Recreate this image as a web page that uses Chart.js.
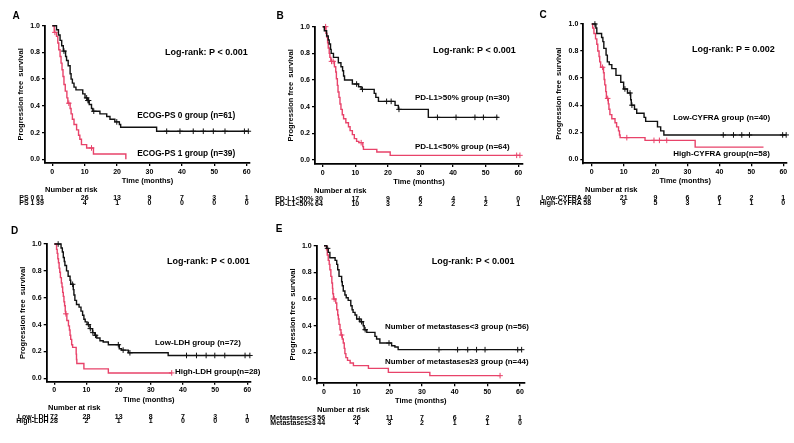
<!DOCTYPE html>
<html>
<head>
<meta charset="utf-8">
<script src="https://cdn.jsdelivr.net/npm/chart.js@4.4.1/dist/chart.umd.min.js"></script>
<style>
  body { margin: 0; background: #fff; }
  #wrap { position: relative; width: 794px; height: 443px; overflow: hidden; background: #fff; }
  #wrap canvas { position: absolute; }
</style>
</head>
<body>
<div id="wrap"></div>
<script>
// --- DATA ---
const xTicks = [0, 10, 20, 30, 40, 50, 60];
const yTicks = [0, 0.2, 0.4, 0.6, 0.8, 1.0];

// A: ECOG-PS
const aT0 = [0, 1.3, 1.9, 2.4, 2.9, 3.4, 4.1, 4.4, 4.9, 5.5, 5.8, 6.2, 6.7, 7.3, 9.4, 10.1, 10.8, 11.4, 12.1, 12.5, 14.7, 16.8, 17.8, 19.3, 20.7, 21.1, 32.2];
const aS0 = [1.0, 0.97, 0.93, 0.89, 0.85, 0.81, 0.77, 0.74, 0.70, 0.64, 0.60, 0.57, 0.54, 0.52, 0.49, 0.46, 0.44, 0.41, 0.38, 0.36, 0.34, 0.32, 0.30, 0.28, 0.26, 0.24, 0.21];
const aC0 = [3.6, 10.6, 11.0, 11.2, 12.8, 19.9, 35.3, 39.4, 43.5, 46.6, 49.7, 53.3, 59.3, 60.5];
const aEnd0 = 60.5;
const aT1 = [0, 0.6, 1.3, 1.7, 2.0, 2.4, 2.7, 3.0, 3.3, 3.6, 4.0, 4.5, 4.8, 5.5, 5.8, 6.2, 6.7, 7.5, 8.1, 8.5, 9.0, 10.6, 12.7, 22.7];
const aS1 = [1.0, 0.95, 0.92, 0.87, 0.82, 0.77, 0.72, 0.67, 0.62, 0.56, 0.51, 0.46, 0.42, 0.38, 0.34, 0.30, 0.26, 0.22, 0.18, 0.15, 0.11, 0.085, 0.04, 0.0];
const aC1 = [0.8, 5.1, 12.1];
const aEnd1 = 22.7;
const aRisk0 = [61, 26, 13, 9, 7, 3, 1];
const aRisk1 = [39, 4, 1, 0, 0, 0, 0];

// B: PD-L1
const bT0 = [0, 0.5, 1.2, 1.7, 2.0, 2.4, 2.6, 3.3, 4.8, 5.6, 6.1, 6.4, 6.7, 9.1, 11.0, 11.8, 15.8, 16.3, 17.1, 22.2, 23.2, 32.4];
const bS0 = [1.0, 0.97, 0.93, 0.90, 0.87, 0.83, 0.80, 0.77, 0.73, 0.70, 0.67, 0.63, 0.60, 0.57, 0.55, 0.53, 0.50, 0.47, 0.44, 0.41, 0.38, 0.32];
const bC0 = [10.4, 12.2, 19.6, 21.0, 23.4, 35.2, 40.9, 46.7, 49.3, 53.4];
const bEnd0 = 53.9;
const bT1 = [0, 1.0, 1.3, 1.5, 1.7, 2.0, 2.2, 2.5, 3.6, 4.0, 4.2, 4.5, 4.7, 5.0, 5.3, 5.6, 6.0, 6.4, 7.1, 7.9, 8.4, 9.1, 9.7, 10.4, 11.1, 12.3, 12.5, 16.6, 20.7];
const bS1 = [1.0, 0.95, 0.92, 0.88, 0.84, 0.80, 0.77, 0.74, 0.70, 0.66, 0.61, 0.56, 0.51, 0.47, 0.42, 0.38, 0.34, 0.31, 0.28, 0.25, 0.22, 0.19, 0.16, 0.14, 0.13, 0.10, 0.08, 0.06, 0.035];
const bC1 = [0.9, 2.7, 3.2, 11.8, 59.5, 60.5];
const bEnd1 = 60.5;
const bRisk0 = [30, 17, 9, 6, 4, 1, 0];
const bRisk1 = [64, 10, 3, 2, 2, 2, 1];

// C: CYFRA
const cT0 = [0, 1.3, 1.6, 3.1, 3.5, 3.8, 4.5, 4.9, 5.5, 6.3, 7.6, 9.1, 10.0, 11.2, 12.2, 12.4, 13.4, 14.1, 16.4, 16.9, 20.6, 21.6, 22.6];
const cS0 = [1.0, 0.97, 0.93, 0.90, 0.87, 0.82, 0.77, 0.72, 0.70, 0.67, 0.62, 0.57, 0.52, 0.49, 0.44, 0.40, 0.37, 0.34, 0.31, 0.28, 0.24, 0.21, 0.18];
const cC0 = [1.0, 10.4, 12.0, 12.6, 41.2, 44.4, 47.0, 49.4, 59.8, 60.9];
const cEnd0 = 60.9;
const cT1 = [0, 0.3, 0.7, 1.2, 1.6, 1.9, 2.3, 2.5, 2.8, 3.7, 3.9, 4.1, 4.4, 4.6, 5.2, 5.4, 5.7, 6.3, 7.3, 7.8, 8.4, 8.7, 8.9, 16.7, 32.4];
const cS1 = [1.0, 0.97, 0.93, 0.89, 0.85, 0.80, 0.76, 0.72, 0.68, 0.64, 0.59, 0.55, 0.50, 0.45, 0.41, 0.37, 0.33, 0.30, 0.27, 0.24, 0.21, 0.18, 0.16, 0.14, 0.09];
const cC1 = [3.4, 5.0, 11.0, 19.5, 21.2, 23.5];
const cEnd1 = 53.8;
const cRisk0 = [40, 21, 9, 6, 6, 2, 1];
const cRisk1 = [58, 9, 5, 3, 1, 1, 0];

// D: LDH
const dT0 = [0, 2.1, 2.5, 2.8, 3.1, 3.3, 3.8, 4.3, 4.9, 5.1, 5.9, 6.1, 6.4, 6.9, 7.7, 8.3, 8.8, 9.2, 9.6, 10.2, 11.1, 11.9, 12.6, 13.2, 14.2, 15.2, 16.8, 20.2, 20.9, 23.0, 35.4];
const dS0 = [1.0, 0.97, 0.94, 0.90, 0.87, 0.84, 0.80, 0.76, 0.73, 0.70, 0.66, 0.62, 0.58, 0.55, 0.53, 0.50, 0.47, 0.44, 0.42, 0.40, 0.37, 0.34, 0.32, 0.30, 0.28, 0.27, 0.25, 0.22, 0.21, 0.19, 0.17];
const dC0 = [1.2, 5.7, 10.6, 11.2, 12.0, 12.8, 19.9, 21.4, 23.5, 41.1, 44.2, 47.2, 49.9, 53.0, 59.3, 60.8];
const dEnd0 = 60.8;
const dT1 = [0, 0.7, 0.9, 1.1, 1.3, 1.5, 1.7, 1.9, 2.2, 2.4, 2.6, 2.8, 3.0, 3.2, 3.4, 3.5, 3.9, 4.4, 4.7, 4.9, 5.1, 5.4, 5.7, 6.8, 6.9, 7.0, 9.2, 16.8];
const dS1 = [1.0, 0.96, 0.93, 0.89, 0.86, 0.82, 0.79, 0.75, 0.71, 0.68, 0.64, 0.61, 0.57, 0.54, 0.50, 0.48, 0.43, 0.39, 0.36, 0.32, 0.29, 0.25, 0.23, 0.18, 0.14, 0.11, 0.07, 0.04];
const dC1 = [3.6, 36.5];
const dEnd1 = 36.5;
const dRisk0 = [72, 28, 13, 8, 7, 3, 1];
const dRisk1 = [28, 2, 1, 1, 0, 0, 0];

// E: number of metastases
const eT0 = [0, 0.8, 1.3, 1.8, 3.4, 3.9, 4.2, 4.6, 5.4, 5.6, 5.9, 6.4, 6.8, 7.4, 8.2, 8.6, 8.9, 9.5, 10.0, 11.0, 12.0, 12.3, 13.1, 15.6, 16.1, 17.1, 20.7, 21.7, 22.7];
const eS0 = [1.0, 0.98, 0.95, 0.91, 0.89, 0.86, 0.82, 0.77, 0.73, 0.70, 0.66, 0.63, 0.61, 0.59, 0.55, 0.52, 0.50, 0.48, 0.45, 0.43, 0.40, 0.37, 0.35, 0.32, 0.30, 0.27, 0.25, 0.24, 0.22];
const eC0 = [1.1, 10.8, 11.5, 12.6, 19.9, 35.2, 40.9, 44.0, 46.7, 49.3, 59.3, 60.5];
const eEnd0 = 60.5;
const eT1 = [0, 0.8, 1.0, 1.3, 1.6, 1.8, 2.1, 2.4, 2.6, 2.7, 2.9, 3.6, 3.9, 4.2, 4.4, 4.6, 4.9, 5.2, 5.6, 5.9, 6.2, 6.4, 6.7, 7.2, 8.0, 9.0, 13.6, 19.7, 32.4];
const eS1 = [1.0, 0.97, 0.93, 0.89, 0.86, 0.82, 0.77, 0.72, 0.68, 0.64, 0.60, 0.57, 0.52, 0.48, 0.45, 0.41, 0.37, 0.33, 0.30, 0.27, 0.23, 0.19, 0.16, 0.14, 0.12, 0.10, 0.08, 0.05, 0.025];
const eC1 = [3.1, 5.4, 53.9];
const eEnd1 = 53.9;
const eRisk0 = [56, 26, 11, 7, 6, 2, 1];
const eRisk1 = [44, 4, 3, 2, 1, 1, 0];

// --- STYLE / LAYOUT ---
const FONT = '"Liberation Sans", Arial, sans-serif';
const BLACK = '#111111';
const RED = '#e8436a';
const Y_W = 28.5;   // width reserved for y ticks + title
const X_H = 22.5;   // height reserved for x ticks + title

Chart.defaults.font.family = FONT;
Chart.defaults.font.weight = 'bold';
Chart.defaults.color = '#000';

const panels = [
  { letter: 'A', letterAt: [16, 16], box: [0, 0, 265, 218],
    geo: { x0: 52.3, x60: 246.7, y1: 25.7, y0: 159.3, axisX: 45, axisY: 163, xEnd: 250 },
    t0: aT0, s0: aS0, c0: aC0, end0: aEnd0, t1: aT1, s1: aS1, c1: aC1, end1: aEnd1,
    risk0: aRisk0, risk1: aRisk1, rowLabels: ['PS 0', 'PS 1'], nameSize: 8.3,
    logrank: 'Log-rank: P < 0.001', name0: 'ECOG-PS 0 group (n=61)', name1: 'ECOG-PS 1 group (n=39)',
    lrAt: [34.8, 0.80], n0At: [26.2, 0.325], n1At: [26.2, 0.04], firstDx: -9, narDx: 0 },
  { letter: 'B', letterAt: [280, 16], box: [265, 0, 265, 218],
    geo: { x0: 322.7, x60: 518.3, y1: 26.7, y0: 160, axisX: 315, axisY: 164, xEnd: 523 },
    t0: bT0, s0: bS0, c0: bC0, end0: bEnd0, t1: bT1, s1: bS1, c1: bC1, end1: bEnd1,
    risk0: bRisk0, risk1: bRisk1, rowLabels: ['PD-L1<50%', 'PD-L1<50%'], nameSize: 8,
    logrank: 'Log-rank: P < 0.001', name0: 'PD-L1>50% group (n=30)', name1: 'PD-L1<50% group (n=64)',
    lrAt: [33.8, 0.825], n0At: [28.3, 0.465], n1At: [28.3, 0.10], firstDx: 0, narDx: -1 },
  { letter: 'C', letterAt: [543, 15], box: [530, 0, 264, 218],
    geo: { x0: 591.7, x60: 783.3, y1: 24, y0: 159.3, axisX: 583.3, axisY: 163.3, xEnd: 787 },
    t0: cT0, s0: cS0, c0: cC0, end0: cEnd0, t1: cT1, s1: cS1, c1: cC1, end1: cEnd1,
    risk0: cRisk0, risk1: cRisk1, rowLabels: ['Low-CYFRA', 'High-CYFRA'], nameSize: 8,
    logrank: 'Log-rank: P = 0.002', name0: 'Low-CYFRA group (n=40)', name1: 'High-CYFRA group(n=58)',
    lrAt: [31.4, 0.815], n0At: [25.5, 0.305], n1At: [25.5, 0.04], firstDx: 0, narDx: 1.7 },
  { letter: 'D', letterAt: [14.5, 231], box: [0, 218, 265, 225],
    geo: { x0: 54.3, x60: 247.3, y1: 244, y0: 378.3, axisX: 46.7, axisY: 381.7, xEnd: 251 },
    t0: dT0, s0: dS0, c0: dC0, end0: dEnd0, t1: dT1, s1: dS1, c1: dC1, end1: dEnd1,
    risk0: dRisk0, risk1: dRisk1, rowLabels: ['Low-LDH', 'High-LDH'], nameSize: 8,
    logrank: 'Log-rank: P < 0.001', name0: 'Low-LDH group (n=72)', name1: 'High-LDH group(n=28)',
    lrAt: [35.0, 0.868], n0At: [31.3, 0.263], n1At: [37.5, 0.05], firstDx: 3.3, narDx: 1.3 },
  { letter: 'E', letterAt: [279, 229], box: [265, 218, 529, 225],
    geo: { x0: 324, x60: 520, y1: 245.7, y0: 379, axisX: 316.7, axisY: 383.3, xEnd: 525 },
    t0: eT0, s0: eS0, c0: eC0, end0: eEnd0, t1: eT1, s1: eS1, c1: eC1, end1: eEnd1,
    risk0: eRisk0, risk1: eRisk1, rowLabels: ['Metastases<3', 'Metastases\u22653'], nameSize: 7.9,
    logrank: 'Log-rank: P < 0.001', name0: 'Number of metastases<3 group (n=56)', name1: 'Number of metastases\u22653 group (n=44)',
    lrAt: [33.0, 0.88], n0At: [18.7, 0.392], n1At: [18.7, 0.13], firstDx: 0.6, narDx: 0.3 }
];

// --- HELPERS ---
function survAt(times, surv, t) {
  let s = surv[0];
  for (let i = 0; i < times.length; i++) {
    if (times[i] <= t) s = surv[i];
  }
  return s;
}

function stepData(times, surv, end) {
  const pts = times.map((t, i) => ({ x: t, y: surv[i] }));
  pts.push({ x: end, y: surv[surv.length - 1] });
  return pts;
}

function censData(times, surv, cens) {
  return cens.map(t => ({ x: t, y: survAt(times, surv, t) }));
}

function curve(data, color) {
  return { data: data, borderColor: color, borderWidth: 1.4, stepped: 'before',
           pointRadius: 0, fill: false, clip: false };
}

function marks(data, color) {
  return { data: data, showLine: false, pointStyle: 'cross', pointRadius: 2.8,
           pointBorderWidth: 1, borderColor: color, pointBorderColor: color, clip: false };
}

function makePanel(p) {
  const [cx, cy, cw, ch] = p.box;
  const g = p.geo;
  const ppm = (g.x60 - g.x0) / 60;
  const ppu = g.y0 - g.y1;

  const canvas = document.createElement('canvas');
  canvas.width = cw;
  canvas.height = ch;
  canvas.style.left = cx + 'px';
  canvas.style.top = cy + 'px';
  document.getElementById('wrap').appendChild(canvas);

  const kmText = {
    id: 'kmText' + p.letter,
    afterDraw(chart) {
      const { ctx, chartArea: ca, scales: { x, y } } = chart;
      ctx.save();
      ctx.fillStyle = '#000';
      ctx.textBaseline = 'middle';

      ctx.font = 'bold 10px ' + FONT;
      ctx.textAlign = 'center';
      ctx.fillText(p.letter, p.letterAt[0] - cx, p.letterAt[1] - cy);

      ctx.textAlign = 'left';
      ctx.font = 'bold 9px ' + FONT;
      ctx.fillText(p.logrank, x.getPixelForValue(p.lrAt[0]), y.getPixelForValue(p.lrAt[1]));
      ctx.font = 'bold ' + p.nameSize + 'px ' + FONT;
      ctx.fillText(p.name0, x.getPixelForValue(p.n0At[0]), y.getPixelForValue(p.n0At[1]));
      ctx.fillText(p.name1, x.getPixelForValue(p.n1At[0]), y.getPixelForValue(p.n1At[1]));

      // number at risk table
      ctx.font = 'bold 7.5px ' + FONT;
      ctx.fillText('Number at risk', ca.left + p.narDx, ca.bottom + 26.5);
      ctx.font = 'bold 7px ' + FONT;
      [p.risk0, p.risk1].forEach((row, r) => {
        const yy = ca.bottom + 35 + r * 4.8;
        ctx.textAlign = 'right';
        ctx.fillText(p.rowLabels[r], ca.left + p.firstDx - 1.5, yy);
        row.forEach((n, i) => {
          if (i === 0) {
            ctx.textAlign = 'left';
            ctx.fillText(String(n), ca.left + p.firstDx, yy);
          } else {
            ctx.textAlign = 'center';
            ctx.fillText(String(n), x.getPixelForValue(xTicks[i]), yy);
          }
        });
      });
      ctx.restore();
    }
  };

  new Chart(canvas, {
    type: 'line',
    data: {
      datasets: [
        curve(stepData(p.t0, p.s0, p.end0), BLACK),
        curve(stepData(p.t1, p.s1, p.end1), RED),
        marks(censData(p.t0, p.s0, p.c0), BLACK),
        marks(censData(p.t1, p.s1, p.c1), RED)
      ]
    },
    options: {
      responsive: false,
      animation: false,
      devicePixelRatio: 1,
      layout: {
        padding: {
          left: g.axisX - cx - Y_W,
          right: cx + cw - g.xEnd,
          top: g.y1 - cy,
          bottom: cy + ch - g.axisY - X_H
        }
      },
      plugins: { legend: { display: false }, tooltip: { enabled: false } },
      scales: {
        x: {
          type: 'linear',
          min: (g.axisX - g.x0) / ppm,
          max: (g.xEnd - g.x0) / ppm,
          afterBuildTicks: s => { s.ticks = xTicks.map(v => ({ value: v })); },
          afterFit: s => { s.height = X_H; },
          grid: { drawOnChartArea: false, drawTicks: true, tickLength: 3, color: '#000', lineWidth: 1.3 },
          border: { display: true, color: '#000', width: 1.8 },
          ticks: { font: { size: 7, weight: 'bold' }, padding: 1.5, autoSkip: false, maxRotation: 0, color: '#000' },
          title: { display: true, text: 'Time (months)', font: { size: 7.5, weight: 'bold' }, padding: 0, color: '#000' }
        },
        y: {
          type: 'linear',
          min: -(g.axisY - g.y0) / ppu,
          max: 1,
          afterBuildTicks: s => { s.ticks = yTicks.map(v => ({ value: v })); },
          afterFit: s => { s.width = Y_W; },
          grid: { drawOnChartArea: false, drawTicks: true, tickLength: 3, color: '#000', lineWidth: 1.3 },
          border: { display: true, color: '#000', width: 1.8 },
          ticks: { font: { size: 7, weight: 'bold' }, padding: 2, autoSkip: false, color: '#000',
                   callback: v => Number(v).toFixed(1) },
          title: { display: true, text: 'Progression free  survival', font: { size: 7.5, weight: 'bold' }, padding: 0, color: '#000' }
        }
      }
    },
    plugins: [kmText]
  });
}

panels.forEach(makePanel);
</script>
</body>
</html>
